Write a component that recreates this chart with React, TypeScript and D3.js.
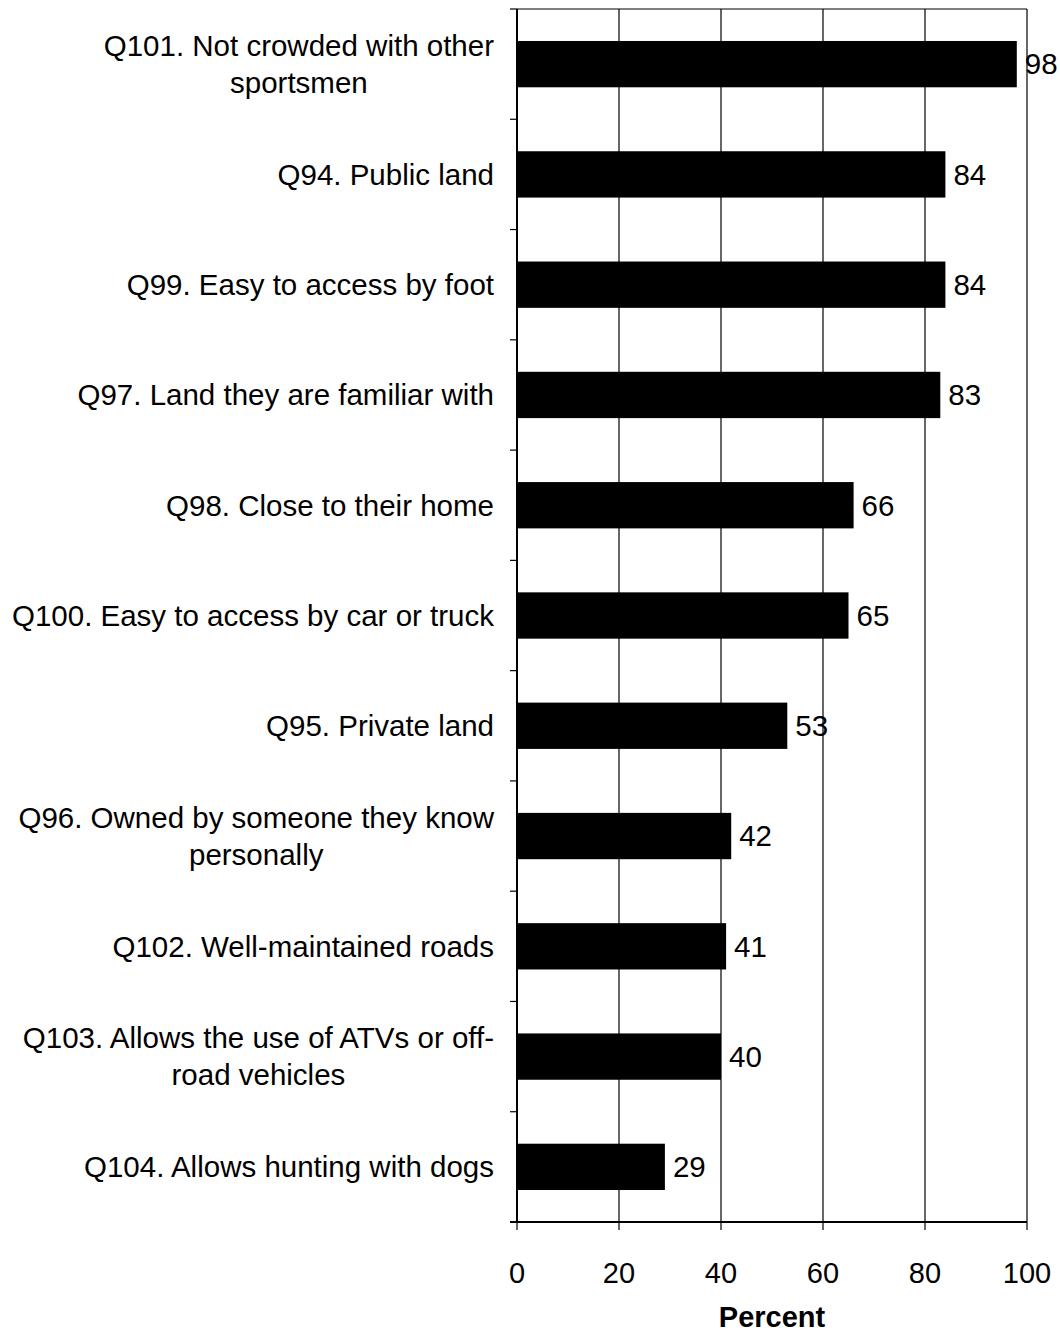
import React, { useEffect, useRef } from "react";
import * as d3 from "d3";

const categories: string[][] = [
  ["Q101. Not crowded with other", "sportsmen"],
  ["Q94. Public land"],
  ["Q99. Easy to access by foot"],
  ["Q97. Land they are familiar with"],
  ["Q98. Close to their home"],
  ["Q100. Easy to access by car or truck"],
  ["Q95. Private land"],
  ["Q96. Owned by someone they know", "personally"],
  ["Q102. Well-maintained roads"],
  ["Q103. Allows the use of ATVs or off-", "road vehicles"],
  ["Q104. Allows hunting with dogs"],
];
const values: number[] = [98, 84, 84, 83, 66, 65, 53, 42, 41, 40, 29];
const xTicks: number[] = [0, 20, 40, 60, 80, 100];
const xTitle = "Percent";

const W = 1060;
const H = 1332;
const FONT = "'Liberation Sans', Arial, sans-serif";
const FS = 29.5;

export default function App() {
  const ref = useRef<SVGSVGElement>(null);

  useEffect(() => {
    const svg = d3.select(ref.current);
    svg.selectAll("*").remove();

    const left = 517, right = 1027, top = 9, bottom = 1222;
    const keys = categories.map((c) => c.join(" "));
    const x = d3.scaleLinear().domain([0, 100]).range([left, right]);
    const y = d3.scaleBand<string>().domain(keys).range([top, bottom]).paddingInner(0.58).paddingOuter(0.29);

    const g = svg.append("g");
    g.selectAll("line.grid")
      .data(xTicks.filter((t) => t > 0))
      .join("line")
      .attr("x1", (d) => x(d)).attr("x2", (d) => x(d))
      .attr("y1", top).attr("y2", bottom)
      .attr("stroke", "#000").attr("stroke-width", 1.2);
    g.append("line").attr("x1", left).attr("x2", right).attr("y1", top).attr("y2", top)
      .attr("stroke", "#000").attr("stroke-width", 1.2);

    g.selectAll("rect.bar")
      .data(values)
      .join("rect")
      .attr("x", x(0))
      .attr("y", (_, i) => y(keys[i])!)
      .attr("width", (d) => x(d) - x(0))
      .attr("height", y.bandwidth())
      .attr("fill", "#000");

    g.selectAll("text.val")
      .data(values)
      .join("text")
      .attr("x", (d) => x(d) + 8)
      .attr("y", (_, i) => y(keys[i])! + y.bandwidth() / 2)
      .attr("dy", "0.35em")
      .attr("font-family", FONT)
      .attr("font-size", FS)
      .text((d) => String(d));

    g.append("line").attr("x1", left).attr("x2", left).attr("y1", top).attr("y2", bottom)
      .attr("stroke", "#000").attr("stroke-width", 2);
    const step = y.step();
    const tickYs = d3.range(keys.length + 1).map((i) => top + i * step);
    g.selectAll("line.ytick")
      .data(tickYs)
      .join("line")
      .attr("x1", left - 7).attr("x2", left)
      .attr("y1", (d) => d).attr("y2", (d) => d)
      .attr("stroke", "#000").attr("stroke-width", 1.2);

    g.append("line").attr("x1", left - 7).attr("x2", right).attr("y1", bottom).attr("y2", bottom)
      .attr("stroke", "#000").attr("stroke-width", 2);
    g.selectAll("line.xtick")
      .data(xTicks)
      .join("line")
      .attr("x1", (d) => x(d)).attr("x2", (d) => x(d))
      .attr("y1", bottom).attr("y2", bottom + 8)
      .attr("stroke", "#000").attr("stroke-width", 1.2);
    g.selectAll("text.xt")
      .data(xTicks)
      .join("text")
      .attr("x", (d) => x(d))
      .attr("y", 1283)
      .attr("text-anchor", "middle")
      .attr("font-family", FONT)
      .attr("font-size", 29)
      .text((d) => String(d));
    g.append("text")
      .attr("x", (left + right) / 2)
      .attr("y", 1327)
      .attr("text-anchor", "middle")
      .attr("font-family", FONT)
      .attr("font-size", 29)
      .attr("font-weight", "bold")
      .text(xTitle);

    const lineH = 37;
    const labelRight = 494;
    categories.forEach((lines, i) => {
      const cy = y(keys[i])! + y.bandwidth() / 2;
      const t = g.append("text")
        .attr("font-family", FONT)
        .attr("font-size", FS)
        .attr("text-anchor", "middle");
      const spans = lines.map((ln, j) =>
        t.append("tspan")
          .attr("y", cy + (j - (lines.length - 1) / 2) * lineH)
          .attr("dy", "0.35em")
          .text(ln)
      );
      const widths = spans.map((s) => (s.node() as SVGTSpanElement).getComputedTextLength());
      const maxW = Math.max(...widths);
      spans.forEach((s) => s.attr("x", labelRight - maxW / 2));
    });
  }, []);

  return (
    <svg
      ref={ref}
      width={W}
      height={H}
      style={{ position: "absolute", left: 0, top: 0, background: "#fff" }}
    />
  );
}
